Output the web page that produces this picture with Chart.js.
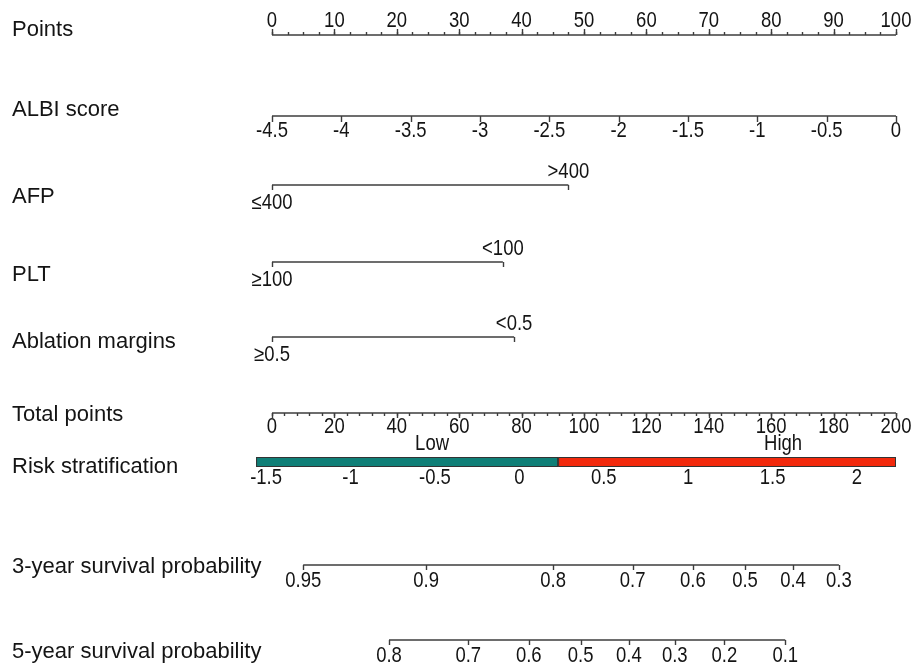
<!DOCTYPE html>
<html>
<head>
<meta charset="utf-8">
<script src="https://cdn.jsdelivr.net/npm/chart.js@4.4.1/dist/chart.umd.min.js"></script>
<style>
  body { margin: 0; background: #fff; }
  #wrap { width: 917px; height: 663px; }
</style>
</head>
<body>
<div id="wrap"><canvas id="nomogram"></canvas></div>
<script>
// row names of the nomogram
const rowNames = ['Points', 'ALBI score', 'AFP', 'PLT', 'Ablation margins', 'Total points',
                  'Risk stratification', '3-year survival probability', '5-year survival probability'];

// points scale
const pointsTicks = [0, 10, 20, 30, 40, 50, 60, 70, 80, 90, 100];

// ALBI score: -4.5 gives 0 points, 0 gives 100 points
const albiTicks = [-4.5, -4, -3.5, -3, -2.5, -2, -1.5, -1, -0.5, 0];
const albiPoints = [0, 100];

// categorical predictors
const afpLevels = ['≤400', '>400'];
const afpPoints = [0, 47.5];
const pltLevels = ['≥100', '<100'];
const pltPoints = [0, 37];
const marginLevels = ['≥0.5', '<0.5'];
const marginPoints = [0, 38.8];

// total points
const totalTicks = [0, 20, 40, 60, 80, 100, 120, 140, 160, 180, 200];

// risk stratification (linear predictor vs total points)
const riskTicks = [-1.5, -1, -0.5, 0, 0.5, 1, 1.5, 2];
const riskLpAnchor = [-1.5, 2];
const riskTotalAnchor = [-1.9, 187.5];
const riskGroups = ['Low', 'High'];
const riskBounds = [-5.1, 91.7, 200];

// survival probabilities and the total points where they sit
const surv3Probs = ['0.95', '0.9', '0.8', '0.7', '0.6', '0.5', '0.4', '0.3'];
const surv3Total = [10.0, 49.4, 90.1, 115.6, 134.9, 151.6, 167.0, 181.7];
const surv5Probs = ['0.8', '0.7', '0.6', '0.5', '0.4', '0.3', '0.2', '0.1'];
const surv5Total = [37.5, 62.9, 82.3, 98.9, 114.4, 129.1, 145.0, 164.5];

// layout
const rowY = { points: 35, albi: 116, afp: 185, plt: 262, margin: 337, total: 413, risk: 462, s3: 565, s5: 640 };
const nameY = [30, 110, 197, 275, 342, 415, 467, 567, 652];
const groupLabelTotal = [51.3, 163.8];
const lineColor = '#3c3c3c';
const textColor = '#141414';
const tickFont = '18.5px "Liberation Sans", Arial, sans-serif';
const tickStretch = 1.15;
const nameFont = '22px "Liberation Sans", Arial, sans-serif';
const riskColors = ['#0f7f77', '#f2290c'];

const albiToPoints = v => albiPoints[0] + (v - albiTicks[0]) / (albiTicks[albiTicks.length - 1] - albiTicks[0]) * (albiPoints[1] - albiPoints[0]);
const totalToPoints = t => t / 2;
const riskToTotal = r => riskTotalAnchor[0] + (r - riskLpAnchor[0]) / (riskLpAnchor[1] - riskLpAnchor[0]) * (riskTotalAnchor[1] - riskTotalAnchor[0]);

function seg(x0, x1, y) {
    return { data: [{ x: x0, y: y }, { x: x1, y: y }] };
}

const baselines = [
    seg(pointsTicks[0], pointsTicks[pointsTicks.length - 1], rowY.points),
    seg(albiToPoints(albiTicks[0]), albiToPoints(albiTicks[albiTicks.length - 1]), rowY.albi),
    seg(afpPoints[0], afpPoints[1], rowY.afp),
    seg(pltPoints[0], pltPoints[1], rowY.plt),
    seg(marginPoints[0], marginPoints[1], rowY.margin),
    seg(totalToPoints(totalTicks[0]), totalToPoints(totalTicks[totalTicks.length - 1]), rowY.total),
    seg(totalToPoints(surv3Total[0]), totalToPoints(surv3Total[surv3Total.length - 1]), rowY.s3),
    seg(totalToPoints(surv5Total[0]), totalToPoints(surv5Total[surv5Total.length - 1]), rowY.s5)
].map(d => Object.assign(d, {
    showLine: true,
    borderColor: lineColor,
    borderWidth: 1.6,
    pointRadius: 0
}));

// draws ticks, labels, row names and the risk bar
const nomogramPlugin = {
    id: 'nomogram',
    beforeDatasetsDraw(chart) {
        const ctx = chart.ctx;
        const xs = chart.scales.x;
        ctx.save();
        for (let i = 0; i < riskGroups.length; i++) {
            const a = xs.getPixelForValue(totalToPoints(riskBounds[i]));
            const b = xs.getPixelForValue(totalToPoints(riskBounds[i + 1]));
            ctx.fillStyle = riskColors[i];
            ctx.fillRect(a, rowY.risk - 5, b - a, 10);
            ctx.strokeStyle = '#333';
            ctx.lineWidth = 1;
            ctx.strokeRect(a + 0.5, rowY.risk - 4.5, b - a - 1, 9);
        }
        ctx.restore();
    },
    afterDatasetsDraw(chart) {
        const ctx = chart.ctx;
        const xs = chart.scales.x;
        const px = v => xs.getPixelForValue(v);
        ctx.save();
        ctx.strokeStyle = lineColor;
        ctx.lineWidth = 1.4;
        ctx.fillStyle = textColor;
        ctx.textAlign = 'center';
        ctx.textBaseline = 'middle';

        const tick = (x, y, len) => {
            ctx.beginPath();
            ctx.moveTo(Math.round(x) + 0.5, y);
            ctx.lineTo(Math.round(x) + 0.5, y + len);
            ctx.stroke();
        };
        // tick labels in the reference are slightly tall and narrow
        const text = (s, x, y) => {
            ctx.save();
            ctx.font = tickFont;
            ctx.translate(x, y);
            ctx.scale(1, tickStretch);
            ctx.fillText(s, 0, 0);
            ctx.restore();
        };

        // Points
        for (let v = 0; v <= 100; v += 2.5) tick(px(v), rowY.points, -3);
        pointsTicks.forEach(v => { tick(px(v), rowY.points, -6); text(String(v), px(v), rowY.points - 14); });

        // ALBI score
        albiTicks.forEach(v => {
            const x = px(albiToPoints(v));
            tick(x, rowY.albi, 6);
            text(String(v), x, rowY.albi + 15);
        });

        // categorical rows
        [[afpLevels, afpPoints, rowY.afp], [pltLevels, pltPoints, rowY.plt], [marginLevels, marginPoints, rowY.margin]]
            .forEach(([levels, pts, y]) => {
                tick(px(pts[0]), y, 5);
                tick(px(pts[1]), y, 5);
                text(levels[0], px(pts[0]), y + 18);
                text(levels[1], px(pts[1]), y - 13);
            });

        // Total points
        for (let v = 0; v <= 200; v += 4) tick(px(totalToPoints(v)), rowY.total, 3);
        totalTicks.forEach(v => {
            const x = px(totalToPoints(v));
            tick(x, rowY.total, 5);
            text(String(v), x, rowY.total + 14);
        });

        // Risk stratification
        riskTicks.forEach(r => text(String(r), px(totalToPoints(riskToTotal(r))), rowY.risk + 16));
        riskGroups.forEach((g, i) => text(g, px(totalToPoints(groupLabelTotal[i])), rowY.risk - 18));

        // survival rows
        [[surv3Probs, surv3Total, rowY.s3], [surv5Probs, surv5Total, rowY.s5]].forEach(([probs, tot, y]) => {
            probs.forEach((p, i) => {
                const x = px(totalToPoints(tot[i]));
                tick(x, y, 5);
                text(p, x, y + 16);
            });
        });

        // row names
        ctx.textAlign = 'left';
        ctx.font = nameFont;
        rowNames.forEach((n, i) => ctx.fillText(n, 12, nameY[i]));
        ctx.restore();
    }
};

new Chart(document.getElementById('nomogram'), {
    type: 'scatter',
    data: { datasets: baselines },
    options: {
        responsive: true,
        maintainAspectRatio: false,
        animation: false,
        layout: { padding: 0 },
        plugins: {
            legend: { display: false },
            tooltip: { enabled: false }
        },
        scales: {
            x: { type: 'linear', display: false, min: -272 / 6.24, max: (917 - 272) / 6.24 },
            y: { type: 'linear', display: false, min: 0, max: 663, reverse: true }
        }
    },
    plugins: [nomogramPlugin]
});
</script>
</body>
</html>
